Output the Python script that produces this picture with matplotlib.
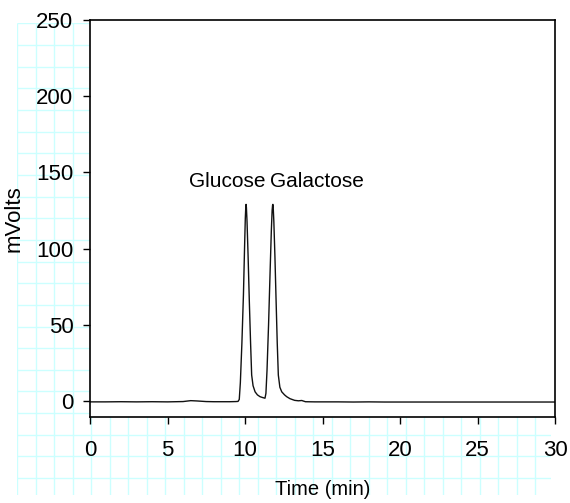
import numpy as np
import matplotlib
matplotlib.use("Agg")
import matplotlib.pyplot as plt

plt.rcParams['font.family'] = ['Liberation Sans', 'DejaVu Sans']

# chromatogram trace (time in min, signal in mV)
time_min = [0, 1, 2, 3, 4, 5, 6, 6.5, 6.9, 7.5, 8, 8.5, 9, 9.4, 9.55, 9.63,
            9.70, 9.80, 9.90, 9.97, 10.02, 10.05, 10.07, 10.09, 10.13, 10.20,
            10.28, 10.36, 10.43, 10.52, 10.65, 10.80, 10.97, 11.15, 11.29,
            11.35, 11.42, 11.52, 11.62, 11.70, 11.75, 11.78, 11.80, 11.82,
            11.86, 11.93, 12.00, 12.08, 12.15, 12.25, 12.37, 12.55, 12.69,
            12.90, 13.20, 13.45, 13.66, 13.90, 14.5, 15, 16, 17, 18, 19, 20,
            22, 25, 28, 30]
signal_mv = [-0.6, -0.6, -0.5, -0.6, -0.5, -0.6, -0.4, 0.2, 0.0, -0.4, -0.5,
             -0.5, -0.5, -0.4, -0.3, 1.0,
             12, 38, 70, 100, 120, 127, 129, 127, 118, 95,
             65, 38, 17, 10, 6, 4, 2.8, 2.2, 1.8,
             5, 20, 50, 85, 112, 125, 128.5, 129, 127,
             118, 95, 68, 38, 17, 9, 6, 4, 2.8,
             1.5, 0.4, 0.1, 0.3, -0.5, -0.6, -0.6, -0.6, -0.7, -0.6, -0.7, -0.7,
             -0.7, -0.7, -0.7, -0.7]

peak_names = ["Glucose", "Galactose"]
label_x = [11.3, 11.62]
label_y = [140.5, 140.5]

x_ticks = [0, 5, 10, 15, 20, 25, 30]
y_ticks = [0, 50, 100, 150, 200, 250]

W, H = 570, 503
fig = plt.figure(figsize=(W / 100, H / 100), dpi=100)

# graph paper behind the plot
bg = fig.add_axes([17 / W, (H - 495) / H, (551 - 17) / W, (495 - 23) / H])
bg.set_xlim(-0.5, 534)
bg.set_ylim(472, -0.5)
bg.vlines(np.arange(0, 520, 18.5), 0, 472, color='#ccffff', lw=1)
bg.hlines(np.arange(0, 460, 21.67), 0, 534, color='#ccffff', lw=1)
bg.axis('off')

ax = fig.add_axes([90 / W, (H - 416.5) / H, 465 / W, 396.5 / H])
ax.set_facecolor('white')
ax.plot(time_min, signal_mv, color='#111111', lw=1.0)

ax.text(label_x[0], label_y[0], peak_names[0], ha='right', va='baseline', fontsize=15)
ax.text(label_x[1], label_y[1], peak_names[1], ha='left', va='baseline', fontsize=15)

ax.set_xlim(0, 30)
ax.set_ylim(-10.2, 250)
ax.set_xticks(x_ticks)
ax.set_yticks(y_ticks)
ax.tick_params(axis='x', direction='out', length=5, width=1, pad=12, labelsize=16)
ax.tick_params(axis='y', direction='out', length=5, width=1, pad=7, labelsize=16)
for s in ax.spines.values():
    s.set_linewidth(1.2)

ax.set_xlabel("Time (min)", fontsize=14.5)
ax.set_ylabel("mVolts", fontsize=16)
ax.xaxis.set_label_coords(0.5, -0.16)
ax.yaxis.set_label_coords(-0.14, 0.5)

fig.savefig("out.png", dpi=100)
